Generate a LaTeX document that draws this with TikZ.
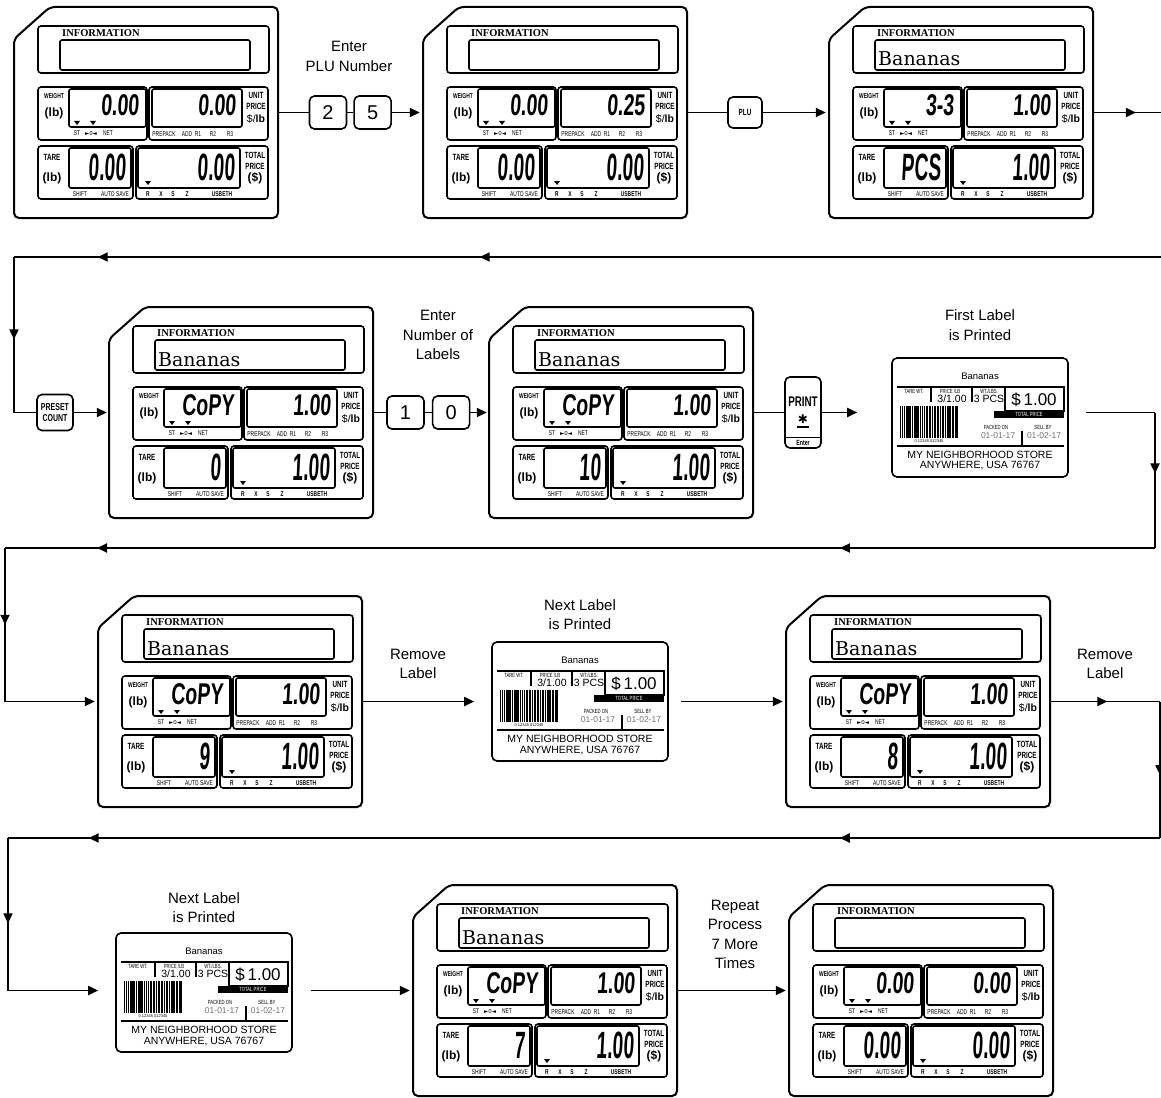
\documentclass[tikz,border=0pt]{standalone}
\usepackage{fontspec}
\usepackage{graphicx}
\setmainfont{Liberation Sans}
\newfontfamily\narrowfont{Liberation Sans}[FakeStretch=0.7]
\newfontfamily\segfont{Liberation Sans}[FakeSlant=0.1]
\newfontfamily\infofont{DejaVu Serif}
\newfontfamily\headfont{Liberation Serif}
\newfontfamily\symfont{DejaVu Sans}
\usetikzlibrary{positioning,arrows.meta,calc,decorations.markings}

\newcommand{\segsmall}[1]{\scalebox{0.65}[1]{\segfont\bfseries\fontsize{30}{30}\selectfont #1}}
\newcommand{\segbig}[1]{\scalebox{0.5}[1]{\segfont\bfseries\fontsize{38}{38}\selectfont #1}}

\tikzset{
  flow/.style={line width=1.8pt},
  endtip/.style={-{Triangle[length=10pt,width=9pt]}},
  midtip/.style={postaction={decorate,decoration={markings,
        mark=at position #1 with {\arrow{Triangle[length=10pt,width=9pt]}}}}},
  dispframe/.style={line width=2pt, rounded corners=5pt},
  panel/.style={line width=1.6pt, rounded corners=3pt},
  window/.style={line width=1.6pt, rounded corners=2pt},
  dispnode/.style={minimum width=264pt, minimum height=211pt, inner sep=0pt},
  labnode/.style={draw, line width=1.6pt, rounded corners=5pt,
    minimum width=176pt, minimum height=119pt, inner sep=0pt},
  keybox/.style={draw, line width=1.6pt, rounded corners=5pt, minimum width=37pt,
    minimum height=33pt, inner sep=0pt, font=\fontsize{20}{20}\selectfont},
  steptext/.style={align=center, inner sep=0pt, font=\fontsize{15}{19.5}\selectfont},
  headlbl/.style={inner sep=0pt, anchor=west, font=\headfont\bfseries\fontsize{10.5}{10.5}\selectfont},
  namelbl/.style={inner sep=0pt, anchor=base west, font=\infofont\fontsize{19}{19}\selectfont},
  boldlbl/.style={inner sep=0pt, font=\narrowfont\bfseries\fontsize{9}{9}\selectfont},
  unitlbl/.style={inner sep=0pt, font=\bfseries\fontsize{12}{12}\selectfont},
  tinylbl/.style={inner sep=0pt, font=\narrowfont\fontsize{7}{7}\selectfont},
  segnum/.style={inner sep=0pt, anchor=east},
  labtxt/.style={inner sep=0pt, font=\fontsize{10.5}{10.5}\selectfont},
  labtiny/.style={inner sep=0pt, font=\narrowfont\fontsize{6}{6}\selectfont},
  labdate/.style={inner sep=0pt, text=black!55, font=\fontsize{8.5}{8.5}\selectfont},
}

% scale display: name, top-left corner, info text, weight, unit price, tare, total
\newcommand{\scaledisp}[7]{%
  \begin{scope}[shift={#2}]
    \node[dispnode] (#1) at (132,105.5) {};
    \draw[dispframe] (36,0) -- (264,0) -- (264,211) -- (0,211) -- (0,32) -- cycle;
    % information window
    \draw[panel] (24,19) rectangle (255,66);
    \draw[window] (46,33) rectangle (236,63);
    \node[headlbl] (#1-head) at (48,26) {INFORMATION};
    \node[namelbl] (#1-name) at (49,59) {#3};
    % weight and unit price
    \draw[panel] (24,80) rectangle (133,133);
    \draw[window] (55,82) rectangle (132,120);
    \draw[panel] (135,80) rectangle (254,133);
    \draw[window] (138,82) rectangle (228,120);
    \node[boldlbl, font=\narrowfont\bfseries\fontsize{7}{7}\selectfont] (#1-wl) at (40,89) {WEIGHT};
    \node[unitlbl] (#1-wu) at (40,106) {(lb)};
    \node[boldlbl] (#1-ul1) at (242,88) {UNIT};
    \node[boldlbl] (#1-ul2) at (242,99) {PRICE};
    \node[unitlbl, font=\fontsize{10.5}{10.5}\selectfont] (#1-ul3) at (242,112) {\$/\textbf{lb}};
    \foreach \px in {63,79}
      \fill (\px-3,114) -- (\px+3,114) -- (\px,118) -- cycle;
    \node[tinylbl] (#1-st) at (63,126.5) {ST};
    \node[tinylbl, font=\symfont\fontsize{5.5}{5.5}\selectfont] (#1-zero) at (77,126.5) {►0◄};
    \node[tinylbl] (#1-net) at (94,126.5) {NET};
    \foreach \t/\px [count=\i] in {PREPACK/150, ADD/173, R1/184, R2/199, R3/216}
      \node[tinylbl] (#1-pp\i) at (\px,127) {\t};
    \node[segnum] (#1-wt) at (125,98) {\segsmall{#4}};
    \node[segnum] (#1-up) at (222,98) {\segsmall{#5}};
    % tare and total price
    \draw[panel] (24,139) rectangle (119,192);
    \draw[window] (55,141) rectangle (117,181);
    \draw[panel] (122,139) rectangle (254,192);
    \draw[window] (124,141) rectangle (226,181);
    \node[boldlbl] (#1-tl) at (38,150) {TARE};
    \node[unitlbl] (#1-tu) at (38,171) {(lb)};
    \node[boldlbl] (#1-pl1) at (241,148) {TOTAL};
    \node[boldlbl] (#1-pl2) at (241,159) {PRICE};
    \node[unitlbl] (#1-pl3) at (241,171) {(\$)};
    \fill (131,174) -- (137,174) -- (134,178) -- cycle;
    \node[tinylbl] (#1-sh) at (66,187) {SHIFT};
    \node[tinylbl] (#1-as) at (101,187) {AUTO SAVE};
    \foreach \t/\px [count=\i] in {R/134, X/147, S/159, Z/173, USBETH/208}
      \node[tinylbl, font=\narrowfont\bfseries\fontsize{7}{7}\selectfont] (#1-rx\i) at (\px,187) {\t};
    \node[segnum] (#1-tr) at (112,160) {\segbig{#6}};
    \node[segnum] (#1-tp) at (221,160) {\segbig{#7}};
  \end{scope}}

% printed label: name, top-left corner
\newcommand{\pricelabel}[2]{%
  \begin{scope}[shift={#2}]
    \node[labnode] (#1) at (88,59.5) {};
    \node[labtxt, font=\fontsize{9.5}{9.5}\selectfont] (#1-item) at (88,18) {Bananas};
    \draw[line width=1.4pt] (5,29) -- (113,29);
    \draw[line width=1.4pt] (113,29) rectangle (172,53);
    \fill (102,53) rectangle (172,60);
    \node[labtiny, text=white] (#1-tpl) at (137,56.5) {TOTAL PRICE};
    \draw[line width=2.2pt] (39,29) -- (39,44);
    \draw[line width=2.2pt] (80,29) -- (80,44);
    \node[labtiny] (#1-tare) at (22,33) {TARE WT.};
    \node[labtiny] (#1-ppl) at (58,33) {PRICE /LB};
    \node[labtiny] (#1-wtl) at (97,33) {WT./LBS.};
    \node[labtxt] (#1-ppv) at (60,41) {3/1.00};
    \node[labtxt] (#1-pcs) at (97,41) {3 PCS};
    \node[labtxt, font=\fontsize{17}{17}\selectfont] (#1-tot) at (142,42) {\$\,1.00};
    % barcode
    \foreach \bx/\bw in {0/1.4,2.2/0.7,3.6/1.4,6/0.7,7.4/2.1,10.4/0.7,11.8/1.4,14/0.7,
        15.4/2.1,18.4/0.7,19.8/1.4,22/1.4,24.2/0.7,25.6/2.1,28.6/0.7,30/1.4,32.2/0.7,
        33.6/2.1,36.6/0.7,38/1.4,40.2/0.7,41.6/2.1,44.6/1.4,46.8/0.7,48.2/1.4,50.4/0.7,
        51.8/2.1,54.8/0.7,56.2/1.4}
      \fill (8+\bx,48) rectangle ++(\bw,32);
    \node[labtiny, font=\fontsize{4}{4}\selectfont] (#1-code) at (37,83) {0 12345 012345};
    \node[labtiny] (#1-pk) at (104,69) {PACKED ON};
    \node[labdate] (#1-pkd) at (106,78) {01-01-17};
    \draw[line width=1.4pt] (130,73) -- (130,88);
    \node[labtiny] (#1-sb) at (151,69) {SELL BY};
    \node[labdate] (#1-sbd) at (152,78) {01-02-17};
    \draw[line width=1.4pt] (5,88) -- (172,88);
    \node[labtxt] (#1-store) at (88,97) {MY NEIGHBORHOOD STORE};
    \node[labtxt] (#1-town) at (88,108) {ANYWHERE, USA 76767};
  \end{scope}}

\begin{document}
\begin{tikzpicture}[x=1pt, y=-1pt]
  \fill[white] (0,0) rectangle (1161,1097);
  \useasboundingbox (0,0) rectangle (1161,1097);

  % row 1: enter PLU number
  \scaledisp{d1}{(14,7)}{}{0.00}{0.00}{0.00}{0.00}
  \scaledisp{d2}{(423,7)}{}{0.00}{0.25}{0.00}{0.00}
  \scaledisp{d3}{(829,7)}{Bananas}{3-3}{1.00}{PCS}{1.00}
  \node[keybox] (k2) at (328,112.5) {2};
  \node[keybox, right=6pt of k2] (k5) {5};
  \node[keybox, minimum width=34pt, minimum height=31pt,
    font=\narrowfont\bfseries\fontsize{9}{9}\selectfont] (kplu) at (745,112.5) {PLU};
  \node[steptext] (enterplu) at (349,56.5) {Enter\\PLU Number};
  \coordinate (c1) at (1161,112.5);
  \draw[flow] (d1.east) -- (k2.west);
  \draw[flow] (k2.east) -- (k5.west);
  \draw[flow, endtip, shorten >=3pt] (k5.east) -- (d2.west);
  \draw[flow] (d2.east) -- (kplu.west);
  \draw[flow, endtip, shorten >=3pt] (kplu.east) -- (d3.west);
  \draw[flow, midtip=0.63] (d3.east) -- (c1);

  % row 2: preset count and first label
  \coordinate (c2) at (1161,257);
  \coordinate (c3) at (14,257);
  \coordinate (c4) at (14,412.5);
  \scaledisp{d4}{(109,307)}{Bananas}{CoPY}{1.00}{0}{1.00}
  \scaledisp{d5}{(489,307)}{Bananas}{CoPY}{1.00}{10}{1.00}
  \node[keybox, minimum width=36pt, minimum height=36pt, align=center,
    font=\narrowfont\bfseries\fontsize{10}{11}\selectfont] (kpreset) at (55,412.5) {PRESET\\COUNT};
  \node[keybox] (k1) at (405.5,412.5) {1};
  \node[keybox, right=7pt of k1] (k0) {0};
  \node[steptext] (enternum) at (438,335) {Enter\\Number of\\Labels};
  \node[keybox, minimum width=36pt, minimum height=71pt] (kprint) at (803,412.5) {};
  \node[inner sep=0pt, font=\narrowfont\bfseries\fontsize{14}{14}\selectfont] (kprint-name) at (803,402) {PRINT};
  \node[inner sep=0pt, font=\symfont\fontsize{12}{12}\selectfont] (kprint-star) at (803,419) {✱};
  \draw[line width=1.4pt] (797,427) -- (809,427);
  \draw[line width=1.2pt] ([yshift=11pt]kprint.south west) -- ([yshift=11pt]kprint.south east);
  \node[inner sep=0pt, font=\narrowfont\bfseries\fontsize{7.5}{7.5}\selectfont] (kprint-enter)
    at ([yshift=5.5pt]kprint.south) {Enter};
  \pricelabel{lab1}{(892,358)}
  \node[steptext] (firstlab) at (980,325) {First Label\\is Printed};
  \draw[flow, midtip=0.594, midtip=0.927] (c2) -- (c3);
  \draw[flow, midtip=0.53] (c3) -- (c4);
  \draw[flow] (c4) -- (kpreset.west);
  \draw[flow, endtip, shorten >=2pt] (kpreset.east) -- (d4.west);
  \draw[flow] (d4.east) -- (k1.west);
  \draw[flow] (k1.east) -- (k0.west);
  \draw[flow, endtip, shorten >=2pt] (k0.east) -- (d5.west);
  \draw[flow] (d5.east) -- (kprint.west);
  \draw[flow, endtip, shorten >=34pt] (kprint.east) -- (kprint.east -| lab1.west);

  % row 3: remove label, next label
  \coordinate (c5) at (1155,412.5);
  \coordinate (c6) at (1155,548);
  \coordinate (c7) at (5,548);
  \coordinate (c8) at (5,701.5);
  \scaledisp{d6}{(98,596)}{Bananas}{CoPY}{1.00}{9}{1.00}
  \scaledisp{d7}{(786,596)}{Bananas}{CoPY}{1.00}{8}{1.00}
  \pricelabel{lab2}{(492,642)}
  \node[steptext] (remove1) at (418,664) {Remove\\Label};
  \node[steptext] (nextlab1) at (580,614.5) {Next Label\\is Printed};
  \node[steptext] (remove2) at (1105,664) {Remove\\Label};
  \draw[flow, shorten <=17pt] (kprint.east -| lab1.east) -- (c5);
  \draw[flow, midtip=0.45] (c5) -- (c6);
  \draw[flow, midtip=0.274, midtip=0.92] (c6) -- (c7);
  \draw[flow, midtip=0.5] (c7) -- (c8);
  \draw[flow, endtip, shorten >=3pt] (c8) -- (d6.west);
  \draw[flow, endtip, shorten >=17pt] (d6.east) -- (d6.east -| lab2.west);
  \draw[flow, endtip, shorten <=12pt, shorten >=3pt] (d6.east -| lab2.east) -- (d7.west);

  % row 4: repeat
  \coordinate (c9) at (1160,701.5);
  \coordinate (c10) at (1160,838);
  \coordinate (c11) at (8,838);
  \coordinate (c12) at (8,990.5);
  \pricelabel{lab3}{(116,933)}
  \scaledisp{d8}{(413,885)}{Bananas}{CoPY}{1.00}{7}{1.00}
  \scaledisp{d9}{(789,885)}{}{0.00}{0.00}{0.00}{0.00}
  \node[steptext] (nextlab2) at (204,907.5) {Next Label\\is Printed};
  \node[steptext] (repeat) at (735,934.5) {Repeat\\Process\\7 More\\Times};
  \draw[flow, midtip=0.52] (d7.east) -- (c9);
  \draw[flow, midtip=0.54] (c9) -- (c10);
  \draw[flow, midtip=0.278, midtip=0.93] (c10) -- (c11);
  \draw[flow, midtip=0.56] (c11) -- (c12);
  \draw[flow, endtip, shorten >=17pt] (c12) -- (lab3.west |- c12);
  \draw[flow, endtip, shorten <=18pt, shorten >=3pt] (lab3.east |- c12) -- (d8.west);
  \draw[flow, endtip, shorten >=3pt] (d8.east) -- (d9.west);
\end{tikzpicture}
\end{document}
